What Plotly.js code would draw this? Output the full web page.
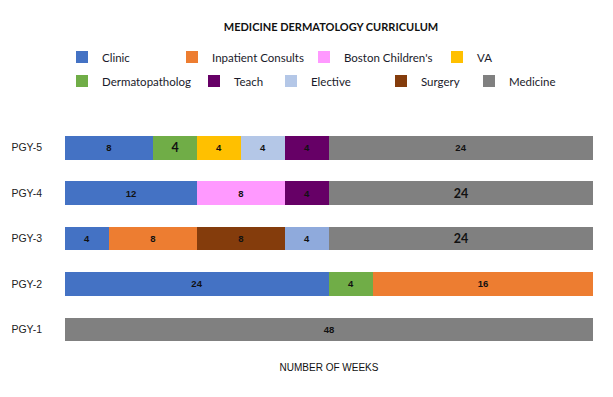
<!DOCTYPE html>
<html>
<head>
<meta charset="utf-8">
<script src="https://cdn.plot.ly/plotly-3.0.1.min.js"></script>
<style>html,body{margin:0;padding:0;background:#fff;}#chart{width:613px;height:397px;}</style>
</head>
<body>
<div id="chart"></div>
<script>
// ---- data (weeks, as drawn) ----
const categories = ['PGY-1', 'PGY-2', 'PGY-3', 'PGY-4', 'PGY-5'];
const clinic    = [null, 24, 4, 12, 8];
const dermpath  = [null, 4, null, null, 4];
const inpatient = [null, 20, 8, null, null];
const va        = [null, null, null, null, 4];
const boston    = [null, null, null, 8, null];
const surgery   = [null, null, 8, null, null];
const elective  = [null, null, 4, null, 4];
const teach     = [null, null, null, 4, 4];
const medicine  = [48, null, 24, 24, 24];
// data labels as printed on the chart (PGY-2 Inpatient Consults bar is labelled 16)
const inpatientLabels = [null, 16, 8, null, null];
const seriesNames = ['Clinic', 'Dermatopatholog', 'Inpatient Consults', 'VA', "Boston Children's",
                     'Surgery', 'Elective', 'Teach', 'Medicine'];
const xTitle = 'NUMBER OF WEEKS';
const chartTitle = 'MEDICINE DERMATOLOGY CURRICULUM';

// ---- styles ----
const seriesValues = [clinic, dermpath, inpatient, va, boston, surgery, elective, teach, medicine];
const seriesLabels = [clinic, dermpath, inpatientLabels, va, boston, surgery, elective, teach, medicine];
const colors = ['#4472C4', '#70AD47', '#ED7D31', '#FFC000', '#FF99FF', '#843C0C',
                ['#B4C7E7', '#B4C7E7', '#8FAADC', '#B4C7E7', '#B4C7E7'], '#660066', '#808080'];
// legend item positions: [marker centre x, row centre y] in px
const legendPos = [[82, 57], [82, 81], [192, 57], [457, 57], [324, 57], [401, 81], [291, 81], [214, 81], [489, 81]];
// labels drawn larger (series index, category index)
const bigLabels = [[1, 4], [8, 3], [8, 2]];

const W = 613, H = 397;
const traces = [];
const layout = {
  width: W, height: H,
  margin: {l: 65, r: 20, t: 125, b: 45},
  paper_bgcolor: '#fff', plot_bgcolor: '#fff',
  barmode: 'stack', bargap: 0.48,
  showlegend: true,
  title: {text: chartTitle, font: {family: 'Lato', size: 11, weight: 700, color: '#111'},
          x: 331 / W, xref: 'container', xanchor: 'center', y: 1 - 27 / H, yref: 'container', yanchor: 'middle'},
  xaxis: {range: [0, 48], showticklabels: false, showgrid: false, zeroline: false, showline: false, ticks: '',
          fixedrange: true,
          title: {text: xTitle, font: {family: 'Liberation Sans', size: 10, color: '#111'}, standoff: 11}},
  yaxis: {type: 'category', categoryarray: categories, categoryorder: 'array', showgrid: false, zeroline: false,
          showline: false, ticks: '', ticklabelstandoff: 22,
          tickfont: {family: 'Liberation Sans', size: 10.5, color: '#222'}},
  font: {family: 'Liberation Sans'}
};

seriesValues.forEach((vals, s) => {
  const labels = seriesLabels[s];
  const sizes = vals.map(() => 9.5);
  const fams = vals.map(() => 'Liberation Sans');
  const texts = labels.map(v => v == null ? '' : '<b>' + v + '</b>');
  bigLabels.forEach(([si, ci]) => {
    if (si === s) { sizes[ci] = 12.5; fams[ci] = 'Lato'; }
  });
  const legName = s === 0 ? 'legend' : 'legend' + (s + 1);
  traces.push({
    type: 'bar', orientation: 'h', name: seriesNames[s],
    y: categories, x: vals,
    marker: {color: colors[s], line: {width: 0}},
    text: texts, textposition: 'inside', insidetextanchor: 'middle', textangle: 0,
    constraintext: 'none',
    textfont: {family: fams, size: sizes, color: '#111'},
    hoverinfo: 'name+x',
    legend: legName
  });
  const [cx, cy] = legendPos[s];
  layout[legName] = {
    x: (cx - 20) / W, xref: 'container', xanchor: 'left',
    y: 1 - cy / H, yref: 'container', yanchor: 'middle',
    orientation: 'h', bgcolor: 'rgba(0,0,0,0)', borderwidth: 0,
    font: {family: 'Lato', size: 11.5, color: '#1a1a2a'}
  };
});

Plotly.newPlot('chart', traces, layout, {displayModeBar: false, staticPlot: true});
</script>
</body>
</html>
